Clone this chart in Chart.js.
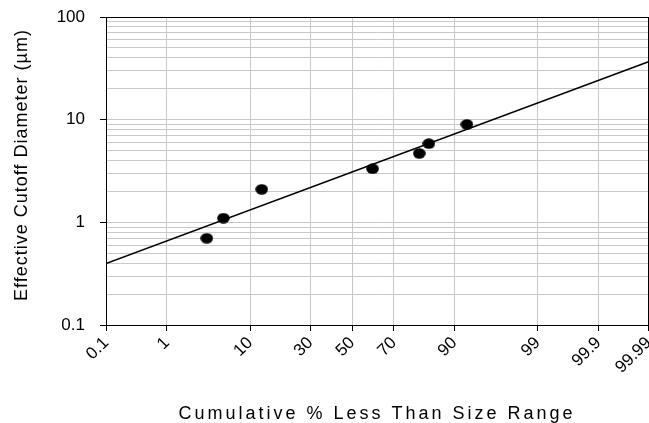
<!DOCTYPE html>
<html>
<head>
<meta charset="utf-8">
<script src="https://cdn.jsdelivr.net/npm/chart.js@4/dist/chart.umd.min.js"></script>
<style>
  html, body { margin: 0; padding: 0; background: #fff; }
  canvas { display: block; }
</style>
</head>
<body>
<canvas id="cutoffChart" width="649" height="423"></canvas>
<script>
// measured points: cumulative % vs effective cutoff diameter (um)
const pointPercent = [3.4, 5.3, 12.8, 60.1, 80.0, 83.2, 92.5];
const pointDiameter = [0.70, 1.10, 2.10, 3.33, 4.70, 5.85, 9.0];

// fitted line end points
const fitPercent = [0.1, 99.99];
const fitDiameter = [0.396, 36.7];

const xTickPercents = [0.1, 1, 10, 30, 50, 70, 90, 99, 99.9, 99.99];
const xTickLabels = ["0.1", "1", "10", "30", "50", "70", "90", "99", "99.9", "99.99"];
const yTickLabels = ["0.1", "1", "10", "100"];

const fontFamily = "'Liberation Sans', Arial, sans-serif";

// inverse normal cdf (Acklam), p in 0..1
function probit(p) {
    const a = [-3.969683028665376e+01, 2.209460984245205e+02, -2.759285104469687e+02, 1.383577518672690e+02, -3.066479806614716e+01, 2.506628277459239e+00];
    const b = [-5.447609879822406e+01, 1.615858368580409e+02, -1.556989798598866e+02, 6.680131188771972e+01, -1.328068155288572e+01];
    const c = [-7.784894002430293e-03, -3.223964580411365e-01, -2.400758277161838e+00, -2.549732539343734e+00, 4.374664141464968e+00, 2.938163982698783e+00];
    const d = [7.784695709041462e-03, 3.224671290700398e-01, 2.445134137142996e+00, 3.754408661907416e+00];
    const pl = 0.02425;
    let q, r;
    if (p < pl) {
        q = Math.sqrt(-2 * Math.log(p));
        return (((((c[0]*q+c[1])*q+c[2])*q+c[3])*q+c[4])*q+c[5]) / ((((d[0]*q+d[1])*q+d[2])*q+d[3])*q+1);
    }
    if (p <= 1 - pl) {
        q = p - 0.5; r = q*q;
        return (((((a[0]*r+a[1])*r+a[2])*r+a[3])*r+a[4])*r+a[5])*q / (((((b[0]*r+b[1])*r+b[2])*r+b[3])*r+b[4])*r+1);
    }
    q = Math.sqrt(-2 * Math.log(1 - p));
    return -(((((c[0]*q+c[1])*q+c[2])*q+c[3])*q+c[4])*q+c[5]) / ((((d[0]*q+d[1])*q+d[2])*q+d[3])*q+1);
}
const z = pct => probit(pct / 100);

const isDecade = v => Math.abs(Math.log10(v) - Math.round(Math.log10(v))) < 1e-6;

// slightly wide black dot like the excel marker
const dot = document.createElement("canvas");
dot.width = 13; dot.height = 11;
{
    const g = dot.getContext("2d");
    g.fillStyle = "#000";
    g.beginPath();
    g.ellipse(6.5, 5.5, 6.3, 5.2, 0, 0, Math.PI * 2);
    g.fill();
}

const frameAndTitles = {
    id: "frameAndTitles",
    afterDraw(chart) {
        const {ctx, chartArea} = chart;
        ctx.save();
        ctx.strokeStyle = "#000";
        ctx.lineWidth = 1;
        ctx.strokeRect(Math.round(chartArea.left) + 0.5, Math.round(chartArea.top) + 0.5,
            Math.round(chartArea.right - chartArea.left) - 1, Math.round(chartArea.bottom - chartArea.top));
        ctx.fillStyle = "#000";
        ctx.font = "18px " + fontFamily;
        ctx.textAlign = "center";
        ctx.textBaseline = "alphabetic";
        ctx.letterSpacing = "3px";
        ctx.fillText("Cumulative % Less Than Size Range", 377, 419);
        ctx.letterSpacing = "1px";
        ctx.translate(27, 165);
        ctx.rotate(-Math.PI / 2);
        ctx.fillText("Effective Cutoff Diameter (\u00b5m)", 0, 0);
        ctx.restore();
    }
};

new Chart(document.getElementById("cutoffChart"), {
    type: "scatter",
    data: {
        datasets: [
            {
                label: "Fit",
                data: fitPercent.map((p, i) => ({x: z(p), y: fitDiameter[i]})),
                showLine: true,
                borderColor: "#000",
                borderWidth: 1.5,
                pointRadius: 0,
                order: 2
            },
            {
                label: "Data",
                data: pointPercent.map((p, i) => ({x: z(p), y: pointDiameter[i]})),
                pointStyle: dot,
                backgroundColor: "#000",
                borderColor: "#000",
                pointRadius: 6,
                order: 1
            }
        ]
    },
    options: {
        responsive: false,
        animation: false,
        devicePixelRatio: 1,
        layout: {autoPadding: false, padding: {top: 17, right: 0.5, left: 0, bottom: 0}},
        plugins: {legend: {display: false}, tooltip: {enabled: false}},
        scales: {
            x: {
                type: "linear",
                min: z(xTickPercents[0]),
                max: z(xTickPercents[xTickPercents.length - 1]),
                afterBuildTicks: scale => {
                    scale.ticks = xTickPercents.map(p => ({value: z(p)}));
                },
                afterFit: scale => {
                    scale.height = 98;
                    scale.paddingLeft = 0;
                    scale.paddingRight = 0;
                },
                border: {color: "#000", width: 1},
                grid: {color: "#c8c8c8", lineWidth: 1, tickColor: "#000", tickLength: 6},
                ticks: {
                    autoSkip: false,
                    minRotation: 45,
                    maxRotation: 45,
                    padding: 2,
                    color: "#000",
                    font: {family: fontFamily, size: 17},
                    callback: (value, index) => xTickLabels[index]
                }
            },
            y: {
                type: "logarithmic",
                min: 0.1,
                max: 100,
                afterBuildTicks: scale => {
                    const t = [];
                    for (let k = -1; k <= 1; k++) {
                        for (let m = 1; m <= 9; m++) t.push({value: m * Math.pow(10, k)});
                    }
                    t.push({value: 100});
                    scale.ticks = t;
                },
                afterFit: scale => {
                    scale.width = 106;
                    scale.paddingTop = 0;
                    scale.paddingBottom = 0;
                },
                border: {color: "#000", width: 1},
                grid: {
                    color: "#c8c8c8",
                    lineWidth: 1,
                    tickLength: 6,
                    tickColor: c => (c.tick && isDecade(c.tick.value)) ? "#000" : "rgba(0,0,0,0)"
                },
                ticks: {
                    autoSkip: false,
                    padding: 15,
                    color: "#000",
                    font: {family: fontFamily, size: 17},
                    callback: value => {
                        if (!isDecade(value)) return "";
                        return yTickLabels[Math.round(Math.log10(value)) + 1];
                    }
                }
            }
        }
    },
    plugins: [frameAndTitles]
});
</script>
</body>
</html>
